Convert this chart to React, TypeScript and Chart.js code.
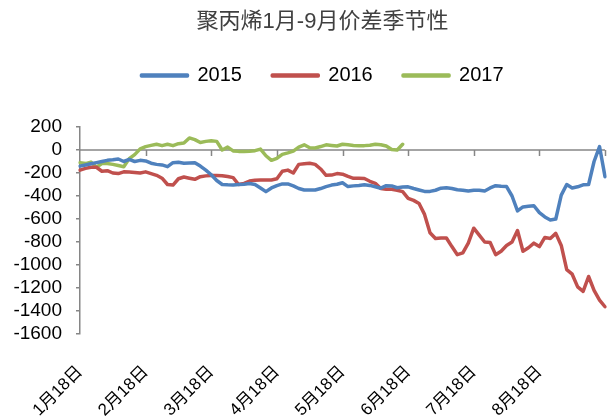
import React, { useEffect, useRef } from 'react';
import { Chart, registerables } from 'chart.js';

Chart.register(...registerables);

const chartTitle = '聚丙烯1月-9月价差季节性';
const seriesNames = ['2015', '2016', '2017'];
const seriesColors = ['#4F81BD', '#C0504D', '#9BBB59'];
const xTickLabels = ['1月18日', '2月18日', '3月18日', '4月18日', '5月18日', '6月18日', '7月18日', '8月18日'];
const tickEvery = 12;
const pointCount = 97;
const yMin = -1600;
const yMax = 200;
const yStep = 200;

const values2015 = [
  -140, -130, -120, -110, -100, -90, -85, -78, -100, -82,
  -100, -90, -95, -115, -125, -130, -145, -110, -107, -115,
  -112, -110, -140, -175, -215, -265, -300, -303, -304, -300,
  -298, -292, -300, -330, -362, -330, -310, -295, -295, -312,
  -335, -348, -348, -348, -335, -318, -305, -298, -285, -318,
  -312, -308, -302, -308, -320, -332, -310, -312, -328, -322,
  -320, -335, -348, -360, -360, -350, -332, -328, -335, -346,
  -350, -357, -350, -350, -356, -330, -310, -316, -318, -400,
  -530, -495, -490, -485, -545, -582, -608, -600, -392, -300,
  -330, -320, -303, -300, -100, 30, -232,
];

const values2016 = [
  -175, -160, -150, -150, -185, -180, -200, -205, -190, -192,
  -195, -200, -190, -205, -220, -245, -300, -305, -250, -235,
  -245, -255, -232, -225, -222, -222, -223, -230, -240, -300,
  -290, -270, -262, -261, -261, -261, -250, -185, -175, -200,
  -125, -120, -116, -125, -165, -220, -218, -205, -210, -230,
  -246, -246, -248, -272, -290, -335, -342, -342, -350, -362,
  -420, -438, -465, -560, -720, -770, -765, -765, -840, -910,
  -895, -810, -680, -740, -800, -805, -910, -880, -830, -800,
  -700, -880, -850, -810, -840, -760, -770, -725, -830, -1040,
  -1080, -1190, -1230, -1100, -1220, -1305, -1363,
];

const values2017 = [
  -110, -118, -105, -150, -118, -118, -125, -135, -145, -75,
  -40, 10, 29, 40, 50, 38, 50, 38, 55, 60,
  105, 90, 65, 75, 80, 75, 0, 25, -8, -12,
  -12, -10, -6, 8, -50, -90, -72, -38, -25, -10,
  25, 45, 20, 18, 30, 45, 40, 35, 50, 45,
  40, 38, 38, 42, 50, 45, 35, 5, 0, 50,
];

const axisGrey = '#868686';
const latin = '"Liberation Sans", Arial, "Noto Sans CJK SC", sans-serif';

const zeroAxisPlugin = {
  id: 'zeroAxis',
  afterLayout(chart: any) {
    // let the y tick labels use the whole left margin (no clipping)
    chart.scales.y.left = 0;
  },
  beforeDatasetsDraw(chart: any) {
    const { ctx, chartArea, scales } = chart;
    const x = scales.x;
    const y = scales.y;
    const y0 = y.getPixelForValue(0);
    ctx.save();
    ctx.strokeStyle = axisGrey;
    ctx.lineWidth = 1.5;
    ctx.beginPath();
    ctx.moveTo(chartArea.left, y0);
    ctx.lineTo(chartArea.right, y0);
    for (let i = tickEvery; i < pointCount; i += tickEvery) {
      const px = Math.round(x.getPixelForValue(i)) + 0.5;
      ctx.moveTo(px, y0);
      ctx.lineTo(px, y0 + 6);
    }
    ctx.stroke();
    ctx.restore();
  },
};

export default function App() {
  const canvasRef = useRef<HTMLCanvasElement | null>(null);

  useEffect(() => {
    const canvas = canvasRef.current;
    if (!canvas) return;
    const categories = Array.from({ length: pointCount }, (_, i) => String(i));
    const seriesValues = [values2015, values2016, values2017];
    const chart = new Chart(canvas, {
      type: 'line',
      data: {
        labels: categories,
        datasets: seriesNames.map((name, k) => ({
          label: name,
          data: seriesValues[k],
          borderColor: seriesColors[k],
          backgroundColor: seriesColors[k],
          borderWidth: 3.5,
          pointRadius: 0,
          pointHoverRadius: 0,
          tension: 0,
          borderJoinStyle: 'round' as const,
          borderCapStyle: 'round' as const,
          fill: false,
        })),
      },
      options: {
        responsive: false,
        animation: false,
        events: [],
        layout: { padding: { left: 40, right: 3, top: 0, bottom: 0 } },
        plugins: {
          title: {
            display: true,
            text: chartTitle,
            color: '#404040',
            font: { family: latin, size: 22, weight: 'normal' },
            padding: { top: 8.8, bottom: 0 },
          },
          legend: {
            display: true,
            position: 'top',
            labels: {
              boxWidth: 46,
              boxHeight: 1,
              padding: 30.3,
              color: '#000000',
              font: { family: latin, size: 20 },
            },
          },
          subtitle: {
            display: true,
            text: '',
            position: 'top',
            weight: 500,
            font: { size: 10 },
            padding: { top: 0, bottom: 19.5 },
          },
          tooltip: { enabled: false },
        },
        scales: {
          x: {
            type: 'category',
            position: 'bottom',
            offset: false,
            grid: { display: false },
            border: { display: false },
            ticks: {
              autoSkip: false,
              minRotation: 45,
              maxRotation: 45,
              padding: 20,
              color: '#000000',
              font: { family: latin, size: 17 },
              callback: (_v: any, index: number) =>
                index % tickEvery === 0 && index / tickEvery < xTickLabels.length
                  ? xTickLabels[index / tickEvery]
                  : null,
            },
            afterFit: (scale: any) => {
              scale.height = 85;
            },
          },
          y: {
            type: 'linear',
            position: 'left',
            min: yMin,
            max: yMax,
            grid: {
              display: true,
              drawOnChartArea: false,
              drawTicks: true,
              tickLength: 4,
              color: axisGrey,
              lineWidth: 1.5,
            },
            border: { display: true, color: axisGrey, width: 1.5 },
            ticks: {
              autoSkip: false,
              stepSize: yStep,
              padding: 14,
              color: '#000000',
              font: { family: latin, size: 19 },
              callback: (v: any) => String(v),
            },
            afterFit: (scale: any) => {
              scale.width = 40;
            },
          },
        },
      },
      plugins: [zeroAxisPlugin],
    } as any);
    return () => chart.destroy();
  }, []);

  return (
    <div style={{ position: 'fixed', left: 0, top: 0, width: 608, height: 419, background: '#ffffff' }}>
      <canvas ref={canvasRef} width={608} height={419} style={{ display: 'block' }} />
    </div>
  );
}
